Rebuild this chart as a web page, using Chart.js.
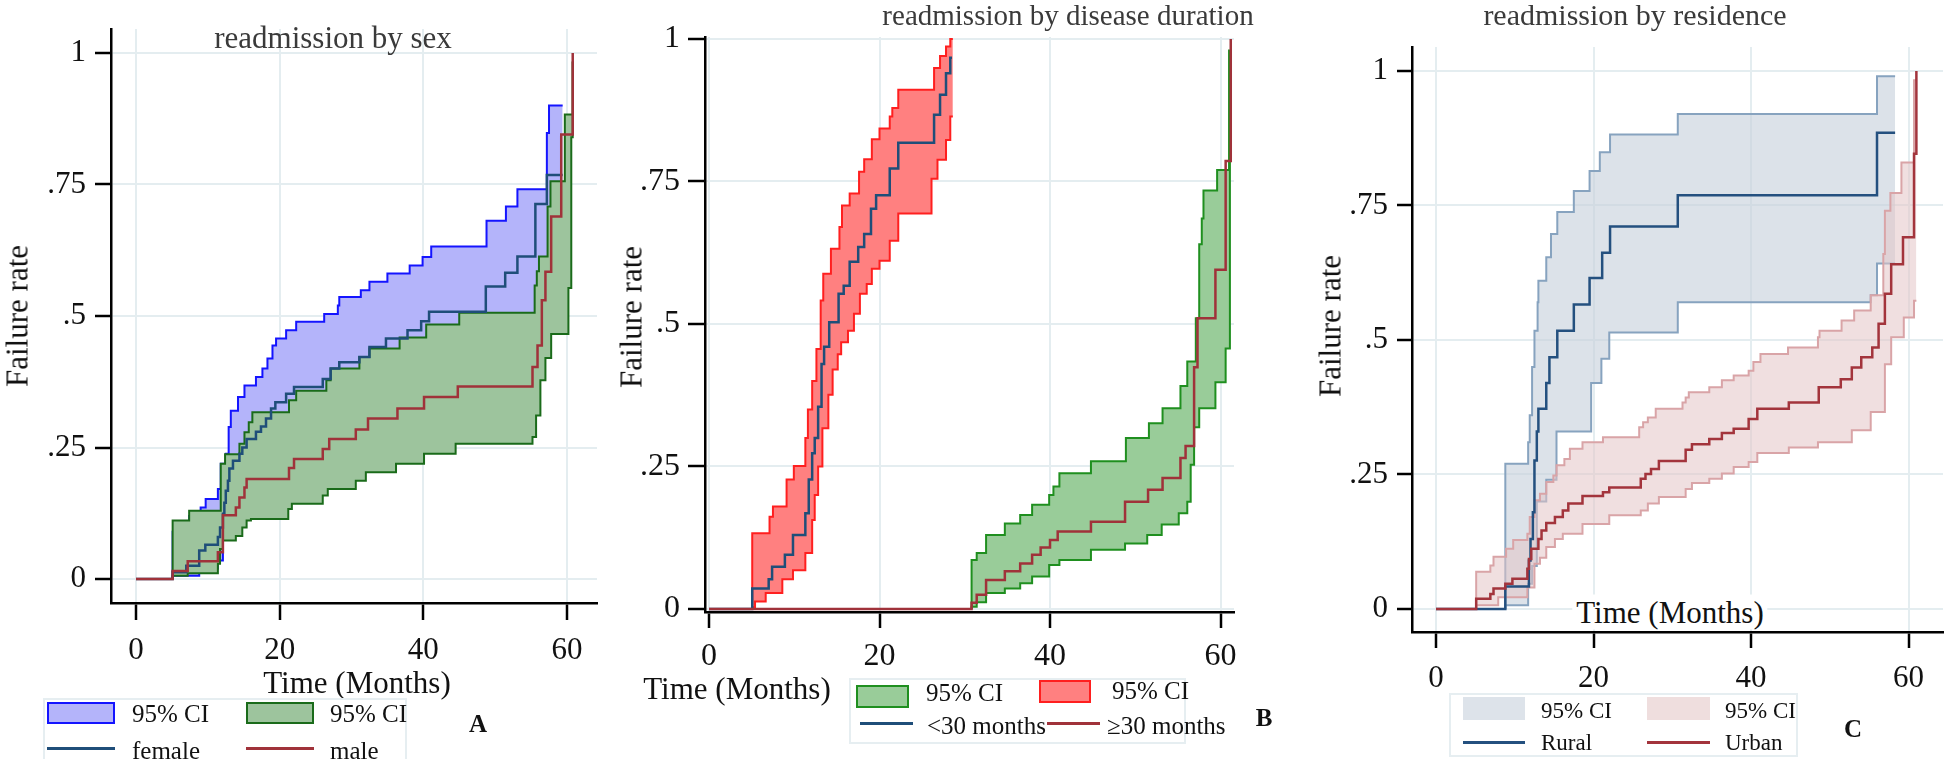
<!DOCTYPE html>
<html>
<head>
<meta charset="utf-8">
<script src="https://cdn.jsdelivr.net/npm/chart.js@4.4.1/dist/chart.umd.min.js"></script>
<style>
  body { margin: 0; background: #fff; }
  #wrap { position: relative; width: 1946px; height: 759px; overflow: hidden; background: #fff;
          font-family: "Liberation Serif", "Times New Roman", Tinos, "DejaVu Serif", serif; color: #111; }
  canvas { position: absolute; left: 0; top: 0; }
  .t { position: absolute; white-space: nowrap; line-height: 1; }
  .c { transform: translate(-50%, -50%); }
  .l { transform: translateY(-50%); }
  .rot { transform: translate(-50%, -50%) rotate(-90deg); }
  .title { font-size: 30px; color: #3a3a3a; }
  .axt { font-size: 31px; }
  .leg { font-size: 25px; }
  .legc { font-size: 23px; }
  .letter { font-weight: bold; font-size: 25px; }
  .patch { position: absolute; box-sizing: border-box; }
  .key { position: absolute; height: 3px; margin-top: -1px; }
  .box { position: absolute; box-sizing: border-box; border: 2px solid #e6eef1; }
</style>
</head>
<body>
<div id="wrap">
  <canvas id="panelA" width="1946" height="759"></canvas>
  <canvas id="panelB" width="1946" height="759"></canvas>
  <canvas id="panelC" width="1946" height="759"></canvas>

  <!-- A -->
  <div class="t c title" style="left:333px; top:37px; font-size:31px;">readmission by sex</div>
  <div class="t rot axt" style="left:17px; top:316px;">Failure rate</div>
  <div class="t c axt" style="left:357px; top:682px;">Time (Months)</div>
  <div class="box" style="left:43px; top:698px; width:364px; height:80px;"></div>
  <div class="patch" style="left:47px; top:702px; width:68px; height:22px; background:#b4b4fa; border:2px solid #1414ff;"></div>
  <div class="t l leg" style="left:132px; top:713px;">95% CI</div>
  <div class="patch" style="left:246px; top:702px; width:68px; height:22px; background:#9dc49d; border:2px solid #1a6b1a;"></div>
  <div class="t l leg" style="left:330px; top:713px;">95% CI</div>
  <div class="key" style="left:47px; top:748px; width:68px; background:#1f4e79;"></div>
  <div class="t l leg" style="left:132px; top:750px;">female</div>
  <div class="key" style="left:246px; top:748px; width:68px; background:#a0323a;"></div>
  <div class="t l leg" style="left:330px; top:750px;">male</div>
  <div class="t c letter" style="left:478px; top:723px;">A</div>

  <!-- B -->
  <div class="t c title" style="left:1068px; top:15px; font-size:29px;">readmission by disease duration</div>
  <div class="t rot axt" style="left:631px; top:317px;">Failure rate</div>
  <div class="t c axt" style="left:737px; top:688px;">Time (Months)</div>
  <div class="box" style="left:849px; top:678px; width:337px; height:66px;"></div>
  <div class="patch" style="left:856px; top:685px; width:53px; height:23px; background:#99cc99; border:2px solid #1f8f1f;"></div>
  <div class="t l leg" style="left:926px; top:692px;">95% CI</div>
  <div class="patch" style="left:1039px; top:680px; width:52px; height:23px; background:#ff8080; border:2px solid #ff1f1f;"></div>
  <div class="t l leg" style="left:1112px; top:690px;">95% CI</div>
  <div class="key" style="left:860px; top:723px; width:53px; background:#1f4e79;"></div>
  <div class="t l leg" style="left:927px; top:725px;">&lt;30 months</div>
  <div class="key" style="left:1047px; top:723px; width:53px; background:#a0323a;"></div>
  <div class="t l leg" style="left:1107px; top:725px;">≥30 months</div>
  <div class="t c letter" style="left:1264px; top:717px;">B</div>

  <!-- C -->
  <div class="t c title" style="left:1635px; top:15px;">readmission by residence</div>
  <div class="t rot axt" style="left:1330px; top:326px;">Failure rate</div>
  <div class="t c axt" style="left:1670px; top:612px; background:#fff; padding:2px 4px;">Time (Months)</div>
  <div class="box" style="left:1449px; top:693px; width:349px; height:64px;"></div>
  <div class="patch" style="left:1463px; top:697px; width:62px; height:23px; background:#dde3ea;"></div>
  <div class="t l legc" style="left:1541px; top:710px;">95% CI</div>
  <div class="patch" style="left:1647px; top:697px; width:63px; height:23px; background:#efdede;"></div>
  <div class="t l legc" style="left:1725px; top:710px;">95% CI</div>
  <div class="key" style="left:1463px; top:742px; width:62px; background:#24507f;"></div>
  <div class="t l legc" style="left:1541px; top:742px;">Rural</div>
  <div class="key" style="left:1647px; top:742px; width:63px; background:#a3343c;"></div>
  <div class="t l legc" style="left:1725px; top:742px;">Urban</div>
  <div class="t c letter" style="left:1853px; top:728px;">C</div>
</div>

<script>
// axis ticks (same for all three panels)
const xTicks = [0, 20, 40, 60];
const xTickLabels = ["0", "20", "40", "60"];
const yTicks = [0, 0.25, 0.5, 0.75, 1];
const yTickLabels = ["0", ".25", ".5", ".75", "1"];

// A: readmission by sex  [month, failure]
const femaleEst = [[0,0],[5.1,0.013],[7.0,0.025],[8.8,0.054],[9.65,0.065],[11.4,0.08],[11.7,0.098],[12.1,0.124],[12.3,0.145],[12.5,0.168],[12.8,0.187],[13.0,0.21],[13.5,0.225],[14.4,0.238],[14.8,0.25],[15.4,0.266],[16.7,0.28],[17.4,0.29],[18.1,0.305],[18.8,0.324],[19.4,0.336],[20.9,0.352],[22.0,0.365],[26.0,0.38],[27.1,0.40],[28.3,0.412],[31.1,0.422],[32.5,0.441],[34.8,0.457],[37.8,0.473],[39.7,0.49],[40.8,0.508],[48.7,0.556],[51.4,0.582],[53.1,0.613],[55.6,0.713],[57.2,0.768],[59.4,0.768]];
const femaleHi = [[5.1,0],[5.1,0.09],[7.4,0.12],[9.0,0.136],[9.7,0.152],[11.4,0.171],[11.8,0.219],[12.5,0.238],[12.9,0.289],[13.2,0.32],[14.2,0.346],[15.1,0.368],[16.7,0.384],[17.6,0.40],[18.3,0.419],[19.0,0.444],[19.5,0.457],[20.9,0.473],[22.3,0.489],[26.2,0.504],[28.1,0.52],[28.3,0.536],[31.3,0.549],[32.5,0.565],[35.0,0.581],[38.1,0.596],[39.9,0.612],[41.1,0.632],[48.8,0.681],[51.5,0.708],[53.1,0.741],[57.2,0.848],[57.5,0.90],[59.4,0.90]];
const femaleLo = [[5.1,0],[5.1,0.006],[8.8,0.02],[11.4,0.035],[12.1,0.075],[12.8,0.10],[13.5,0.12],[14.8,0.135],[16.7,0.15],[18.8,0.18],[20.9,0.20],[22.0,0.215],[26.0,0.23],[28.3,0.25],[32.5,0.27],[34.8,0.29],[39.7,0.31],[40.8,0.33],[48.7,0.37],[53.1,0.40],[55.6,0.48],[57.2,0.55],[59.4,0.55]];
const maleEst = [[0,0],[5.1,0.015],[7.2,0.034],[11.4,0.051],[12.1,0.121],[13.9,0.136],[14.4,0.155],[15.1,0.174],[15.4,0.19],[21.3,0.211],[22.0,0.228],[26.0,0.247],[26.9,0.266],[30.6,0.284],[32.3,0.305],[36.4,0.324],[40.1,0.346],[44.8,0.366],[55.2,0.403],[55.9,0.444],[56.5,0.53],[57.0,0.584],[57.8,0.689],[59.2,0.845],[60.8,1.0]];
const maleHi = [[5.1,0],[5.1,0.111],[7.4,0.13],[11.8,0.219],[12.4,0.237],[14.4,0.257],[15.1,0.279],[15.7,0.298],[16.2,0.317],[21.3,0.34],[22.3,0.358],[26.5,0.378],[27.1,0.40],[31.1,0.422],[32.5,0.438],[36.7,0.459],[40.4,0.484],[45.0,0.506],[55.5,0.558],[55.8,0.585],[56.1,0.613],[57.3,0.708],[57.7,0.756],[59.7,0.883],[60.8,0.984]];
const maleLo = [[5.1,0],[5.1,0.006],[7.2,0.011],[11.4,0.029],[11.7,0.057],[12.1,0.073],[13.9,0.082],[14.8,0.098],[15.4,0.111],[16.0,0.114],[21.2,0.133],[21.7,0.143],[26.0,0.159],[26.7,0.171],[30.6,0.187],[32.0,0.203],[36.2,0.219],[40.1,0.238],[44.5,0.257],[55.2,0.27],[55.7,0.311],[56.3,0.378],[57.0,0.42],[57.8,0.466],[60.2,0.553],[60.6,0.84],[60.8,0.984]];

// B: readmission by disease duration
const shortEst = [[0,0],[5.07,0.036],[7.0,0.052],[7.4,0.074],[8.9,0.095],[9.85,0.13],[11.3,0.168],[11.7,0.227],[12.1,0.273],[12.4,0.30],[12.8,0.355],[13.2,0.43],[13.5,0.46],[14.1,0.503],[15.2,0.553],[15.8,0.567],[16.5,0.609],[17.5,0.635],[18.2,0.658],[19.0,0.702],[19.6,0.726],[21.2,0.773],[22.2,0.818],[26.4,0.867],[27.1,0.902],[27.8,0.94],[28.3,0.967],[28.5,0.967]];
const shortHi = [[5.07,0],[5.07,0.133],[7.1,0.162],[7.5,0.18],[9.1,0.227],[9.95,0.251],[11.3,0.30],[11.6,0.35],[12.1,0.40],[12.6,0.456],[13.1,0.541],[13.4,0.588],[14.3,0.632],[15.3,0.67],[15.6,0.708],[16.5,0.729],[17.6,0.767],[18.2,0.789],[19.1,0.824],[20.0,0.843],[21.2,0.864],[21.5,0.879],[22.2,0.911],[26.4,0.949],[27.1,0.97],[27.8,0.987],[28.3,1.0],[28.6,1.0]];
const shortLo = [[5.07,0],[5.07,0.003],[5.4,0.013],[6.65,0.028],[8.6,0.052],[9.85,0.068],[11.3,0.098],[12.1,0.156],[12.4,0.20],[12.8,0.25],[13.3,0.317],[14.0,0.376],[14.5,0.42],[15.1,0.447],[15.5,0.468],[16.3,0.488],[17.0,0.518],[17.7,0.553],[18.5,0.57],[19.1,0.597],[20.0,0.611],[21.2,0.646],[22.2,0.694],[26.1,0.755],[26.8,0.788],[27.8,0.823],[28.3,0.864],[28.6,0.864]];
const longEst = [[0,0],[30.8,0.011],[31.4,0.025],[32.5,0.051],[34.7,0.066],[36.5,0.08],[37.9,0.095],[38.9,0.108],[40.0,0.121],[40.9,0.136],[44.8,0.153],[48.8,0.188],[51.5,0.209],[53.2,0.23],[55.3,0.265],[55.9,0.286],[56.9,0.424],[57.3,0.51],[59.4,0.595],[60.6,0.786],[61.2,1.0]];
const longHi = [[30.8,0],[30.8,0.086],[31.4,0.098],[32.5,0.13],[34.7,0.15],[36.5,0.165],[37.9,0.183],[39.9,0.20],[40.4,0.215],[41.1,0.238],[44.8,0.259],[48.9,0.30],[51.6,0.326],[53.2,0.352],[55.3,0.391],[56.1,0.434],[57.1,0.51],[57.5,0.64],[57.8,0.685],[58.0,0.734],[59.6,0.77],[61.0,0.98],[61.1,0.98]];
const longLo = [[30.8,0],[30.8,0.004],[31.4,0.012],[32.5,0.028],[34.7,0.036],[36.5,0.045],[37.9,0.057],[39.9,0.077],[41.1,0.086],[44.8,0.104],[48.8,0.115],[51.4,0.13],[53.1,0.148],[55.1,0.168],[56.1,0.188],[56.5,0.253],[56.9,0.319],[57.5,0.352],[59.4,0.398],[60.6,0.457],[61.1,0.98]];

// C: readmission by residence
const ruralEst = [[0,0],[8.8,0.042],[11.8,0.09],[12.0,0.13],[12.3,0.18],[12.5,0.276],[12.8,0.33],[13.0,0.372],[14.0,0.42],[14.4,0.468],[15.4,0.517],[17.5,0.566],[19.5,0.615],[21.1,0.662],[22.1,0.711],[30.7,0.769],[56.0,0.885],[58.3,0.885]];
const ruralHi = [[8.8,0],[8.8,0.27],[11.7,0.31],[11.9,0.36],[12.2,0.45],[12.5,0.517],[12.9,0.57],[13.0,0.61],[14.0,0.654],[14.6,0.697],[15.4,0.738],[17.5,0.777],[19.5,0.814],[20.8,0.849],[22.1,0.882],[30.7,0.92],[56.0,0.99],[58.3,0.99]];
const ruralLo = [[8.8,0],[8.8,0.007],[11.7,0.047],[12.2,0.08],[12.8,0.2],[14.0,0.24],[15.3,0.33],[19.7,0.42],[21.0,0.465],[22.0,0.514],[30.7,0.57],[55.2,0.583],[56.0,0.642],[58.3,0.642]];
const urbanEst = [[0,0],[5.1,0.019],[6.9,0.028],[7.3,0.038],[8.8,0.047],[9.7,0.056],[11.6,0.075],[11.8,0.093],[12.1,0.112],[13.0,0.13],[13.4,0.146],[14.0,0.16],[15.1,0.171],[16.1,0.183],[16.8,0.196],[18.6,0.21],[21.2,0.217],[22.0,0.226],[26.0,0.242],[26.6,0.251],[27.3,0.26],[28.3,0.275],[31.7,0.296],[32.5,0.306],[34.7,0.316],[36.3,0.327],[37.8,0.335],[39.7,0.353],[40.8,0.372],[44.8,0.384],[48.6,0.412],[51.4,0.427],[52.8,0.449],[54.0,0.468],[55.4,0.486],[56.2,0.53],[57.0,0.586],[57.8,0.641],[59.3,0.691],[60.7,0.846],[61.0,1.0]];
const urbanHi = [[5.1,0],[5.1,0.069],[6.9,0.081],[7.3,0.097],[8.9,0.112],[9.8,0.128],[11.6,0.14],[11.9,0.171],[12.5,0.202],[13.2,0.214],[14.0,0.236],[14.9,0.248],[15.3,0.267],[16.3,0.279],[17.0,0.298],[18.6,0.31],[21.2,0.319],[25.8,0.338],[26.3,0.347],[26.9,0.356],[27.9,0.372],[31.3,0.384],[31.7,0.393],[32.1,0.403],[34.7,0.412],[36.3,0.425],[37.8,0.434],[39.7,0.443],[40.3,0.459],[41.2,0.474],[44.7,0.486],[48.5,0.505],[48.7,0.517],[51.5,0.536],[53.1,0.555],[55.2,0.583],[56.8,0.66],[57.0,0.74],[57.7,0.773],[59.1,0.83],[60.7,0.983],[61.0,0.983]];
const urbanLo = [[5.1,0],[5.1,0.007],[7.9,0.022],[11.6,0.04],[12.5,0.084],[13.2,0.095],[14.0,0.115],[15.1,0.13],[16.1,0.14],[18.6,0.158],[22.0,0.174],[26.0,0.183],[26.9,0.196],[28.3,0.208],[31.7,0.223],[32.5,0.234],[34.7,0.242],[36.3,0.252],[37.8,0.264],[39.7,0.273],[40.8,0.29],[44.8,0.30],[48.5,0.31],[52.8,0.332],[55.2,0.366],[57.0,0.455],[57.8,0.505],[59.4,0.542],[60.7,0.573],[61.0,0.573]];

const W = 1946, H = 759;
const Y_W = 100, X_H = 60;
const serif = "'Liberation Serif', 'Times New Roman', Tinos, 'DejaVu Serif', serif";

function pts(arr) {
    return arr.map(p => ({ x: p[0], y: p[1] }));
}

// upper bound gets the fill down to the lower bound (next dataset)
function band(hi, lo, fillColor, edgeColor, edgeWidth, order) {
    return [
        { data: pts(hi), fill: "+1", backgroundColor: fillColor, borderColor: edgeColor, borderWidth: edgeWidth, order: order + 1 },
        { data: pts(lo), fill: false, borderColor: edgeColor, borderWidth: edgeWidth, order: order }
    ];
}

function curve(est, color, order) {
    return { data: pts(est), fill: false, borderColor: color, borderWidth: 2.5, order: order };
}

function makePanel(id, area, xr, yr, tk, datasets) {
    const ctx = document.getElementById(id);
    return new Chart(ctx, {
        type: "line",
        data: { datasets: datasets },
        options: {
            responsive: false,
            animation: false,
            events: [],
            layout: {
                padding: {
                    left: area.left - Y_W,
                    top: area.top,
                    right: W - area.right,
                    bottom: H - area.bottom - X_H
                }
            },
            elements: {
                point: { radius: 0 },
                line: { stepped: "before", tension: 0 }
            },
            plugins: {
                legend: { display: false },
                tooltip: { enabled: false },
                title: { display: false }
            },
            scales: {
                x: {
                    type: "linear",
                    min: xr[0],
                    max: xr[1],
                    afterBuildTicks: s => { s.ticks = xTicks.map(v => ({ value: v })); },
                    afterFit: s => { s.height = X_H; },
                    ticks: {
                        callback: v => xTickLabels[xTicks.indexOf(v)],
                        font: { family: serif, size: tk.xFont },
                        color: "#111",
                        padding: tk.xPad,
                        maxRotation: 0,
                        autoSkip: false
                    },
                    grid: { color: "#e4edf0", lineWidth: 2, tickColor: "#000", tickWidth: 2.5, tickLength: tk.xLen },
                    border: { color: "#000", width: 2.5 }
                },
                y: {
                    type: "linear",
                    min: yr[0],
                    max: yr[1],
                    afterBuildTicks: s => { s.ticks = yTicks.map(v => ({ value: v })); },
                    afterFit: s => { s.width = Y_W; },
                    ticks: {
                        callback: v => yTickLabels[yTicks.indexOf(v)],
                        font: { family: serif, size: tk.yFont },
                        color: "#111",
                        padding: tk.yPad,
                        autoSkip: false
                    },
                    grid: { color: "#e4edf0", lineWidth: 2, tickColor: "#000", tickWidth: 2.5, tickLength: tk.yLen },
                    border: { color: "#000", width: 2.5 }
                }
            }
        }
    });
}

makePanel("panelA",
    { left: 111, top: 29, right: 597, bottom: 603 },
    [-3.48, 64.18], [-0.0456, 1.0456],
    { xFont: 31, xPad: 12, xLen: 17, yFont: 31, yPad: 9, yLen: 16 },
    [
        ...band(femaleHi, femaleLo, "#b4b4fa", "#1414ff", 2, 4),
        ...band(maleHi, maleLo, "#9dc49d", "#1a6b1a", 2, 2),
        curve(femaleEst, "#1f4e79", 1),
        curve(maleEst, "#a0323a", 0)
    ]);

makePanel("panelB",
    { left: 705, top: 37, right: 1234, bottom: 612 },
    [-0.47, 61.58], [-0.0053, 1.0035],
    { xFont: 32, xPad: 9, xLen: 16, yFont: 32, yPad: 8, yLen: 17 },
    [
        ...band(shortHi, shortLo, "#ff8080", "#ff1f1f", 2, 4),
        ...band(longHi, longLo, "#99cc99", "#1f8f1f", 2, 2),
        curve(shortEst, "#1f4e79", 1),
        curve(longEst, "#a0323a", 0)
    ]);

makePanel("panelC",
    { left: 1412, top: 47, right: 1943, bottom: 632 },
    [-3.05, 64.38], [-0.0428, 1.0446],
    { xFont: 31, xPad: 12, xLen: 16, yFont: 31, yPad: 9, yLen: 15 },
    [
        ...band(ruralHi, ruralLo, "rgba(198,208,220,0.62)", "#87a3bf", 2, 4),
        ...band(urbanHi, urbanLo, "rgba(228,196,198,0.55)", "#d9a4a7", 2, 2),
        curve(ruralEst, "#24507f", 1),
        curve(urbanEst, "#a3343c", 0)
    ]);
</script>
</body>
</html>
